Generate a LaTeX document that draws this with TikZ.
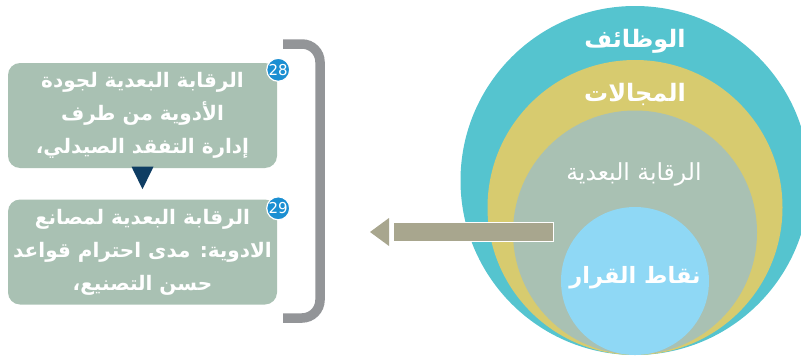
\documentclass[tikz,border=0pt]{standalone}
\usepackage{fontspec}
\usetikzlibrary{positioning,calc}
\TeXXeTstate=1
\newfontfamily\arabicfont[Script=Arabic]{DejaVu Sans}
\definecolor{ccyan}{HTML}{55C4CF}
\definecolor{cyel}{HTML}{D7CB6F}
\definecolor{cgreen}{HTML}{A9C1B3}
\definecolor{csky}{HTML}{8FD8F5}
\definecolor{carrow}{HTML}{A8A68E}
\definecolor{cbrack}{HTML}{939598}
\definecolor{cbadge}{HTML}{1B8FD2}
\definecolor{cnavy}{HTML}{0E3D63}

\begin{document}
\begin{tikzpicture}[x=1pt,y=-1pt,
  box/.style={fill=cgreen,rounded corners=12pt,text=white,align=center,inner sep=0pt,
    minimum width=269pt,minimum height=105pt,font=\arabicfont\bfseries\fontsize{20}{33}\selectfont},
  badge/.style={circle,fill=cbadge,draw=white,line width=1.2pt,minimum size=23pt,inner sep=0pt,
    text=white,font=\arabicfont\fontsize{15}{15}\selectfont},
  ringlbl/.style={text=white,font=\arabicfont\bfseries\fontsize{24}{24}\selectfont},
  thinlbl/.style={text=white,font=\arabicfont\fontsize{23.5}{23.5}\selectfont}]
\useasboundingbox (0,0) rectangle (801,356);

% circles
\fill[ccyan] (635,180.5) circle (174.5pt);
\fill[cyel] (635,207.5) circle (147.5pt);
\fill[cgreen] (635,232.5) circle (122pt);
\fill[csky] (635,281) circle (74pt);
\node[ringlbl] (fn) at (635,41) {\beginR الوظائف\endR};
\node[ringlbl] (dom) at (635,94) {\beginR المجالات\endR};
\node[thinlbl] (post) at (634,174) {\beginR الرقابة البعدية\endR};
\node[ringlbl,font=\arabicfont\bfseries\fontsize{22.5}{22.5}\selectfont] (dec) at (635,278) {\beginR نقاط القرار\endR};

% arrow to the boxes
\coordinate (tip) at (370,232);
\filldraw[carrow,draw=white,line width=1pt] (393,222.5) rectangle (553,241.5);
\fill[carrow] ($(tip)+(19,-14)$) -- (tip) -- ($(tip)+(19,14)$) -- cycle;

% bracket
\draw[cbrack,line width=9.5pt,rounded corners=18pt] (283,44) -- (320,44) -- (320,318) -- (283,318);

% boxes
\node[box] (b1) at (142.5,115.5) {\beginR الرقابة البعدية لجودة\endR\\\beginR الأدوية من طرف\endR\\\beginR إدارة التفقد الصيدلي،\endR};
\node[box] (b2) at (142.5,252) {\beginR الرقابة البعدية لمصانع\endR\\\beginR الادوية: مدى احترام قواعد\endR\\\beginR حسن التصنيع،\endR};
\node[badge] (n28) at ($(b1.north east)+(1,7)$) {28};
\node[badge] (n29) at ($(b2.north east)+(1,9)$) {29};
\fill[cnavy] ($(b1.south)+(-11,-1.5)$) -- ($(b1.south)+(0,21)$) -- ($(b1.south)+(11,-1.5)$) -- cycle;
\end{tikzpicture}
\end{document}
